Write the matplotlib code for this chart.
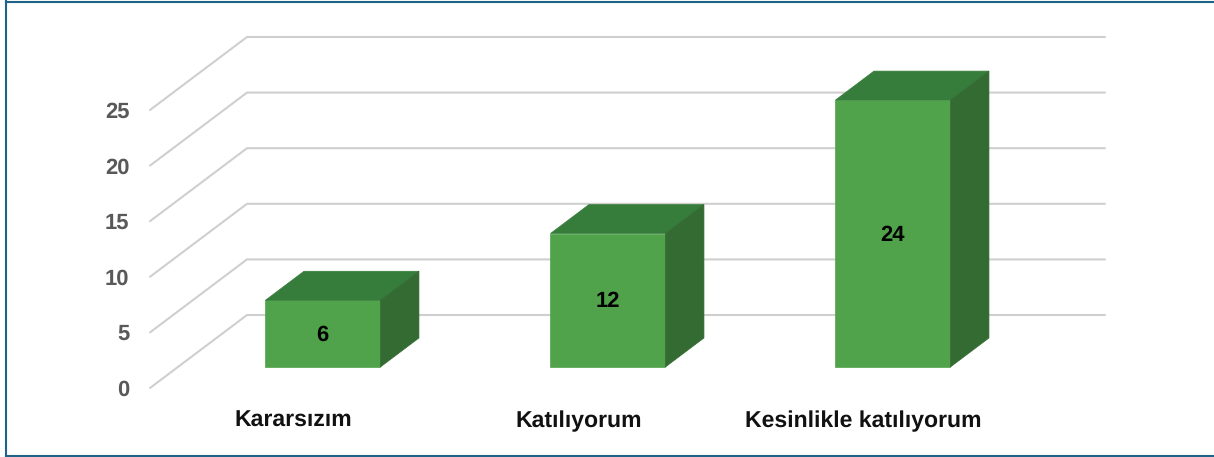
import matplotlib
matplotlib.use("Agg")
from matplotlib import pyplot as plt
from matplotlib.lines import Line2D
import numpy as np

categories = ["Kararsızım", "Katılıyorum", "Kesinlikle katılıyorum"]
values = [6, 12, 24]
y_ticks = [0, 5, 10, 15, 20, 25]

W, H = 1214, 457
PX_PER_UNIT = 11.12
CAT_SPACING = 285.0

# one axes over the whole figure: x in category units, y in chart values
X0_PX = 295.0
Y0_PX = 388.0
WALL_DX = 97.0 / CAT_SPACING
WALL_DY = 73.0 / PX_PER_UNIT
BAR_W = 115.0 / CAT_SPACING
BAR_D0 = 0.288
BAR_D1 = 0.685

plt.rcParams['font.family'] = ['Liberation Sans', 'DejaVu Sans']
plt.rcParams['text.hinting'] = 'none'
plt.rcParams['text.hinting_factor'] = 1

fig = plt.figure(figsize=(W / 100, H / 100), dpi=100)
ax = fig.add_axes([0, 0, 1, 1])
ax.set_xlim(-X0_PX / CAT_SPACING, (W - X0_PX) / CAT_SPACING)
ax.set_ylim(-(H - Y0_PX) / PX_PER_UNIT, Y0_PX / PX_PER_UNIT)
ax.axis("off")

x_front = (150.0 - X0_PX) / CAT_SPACING
x_end = (1105.0 - X0_PX) / CAT_SPACING

def project(x, y, depth):
    return x + WALL_DX * depth, y + WALL_DY * depth

for v in y_ticks:
    xb, yb = project(x_front, v, 1)
    ax.plot([x_front, xb, x_end], [v, yb, yb], color="#cfcfcf", lw=1.5,
            solid_capstyle="round", solid_joinstyle="miter", zorder=1)
    ax.text(x_front - 20.5 / CAT_SPACING, v - 2 / PX_PER_UNIT, str(v), ha="right", va="center",
            fontsize=16, fontweight="bold", color="#595959")

for i, (name, v) in enumerate(zip(categories, values)):
    l = i - BAR_W / 2
    r = i + BAR_W / 2
    fl = project(l, 0, BAR_D0)
    fr = project(r, 0, BAR_D0)
    tl = project(l, v, BAR_D0)
    tr = project(r, v, BAR_D0)
    bl = project(l, v, BAR_D1)
    br = project(r, v, BAR_D1)
    br0 = project(r, 0, BAR_D1)
    ax.fill(*zip(fl, fr, tr, tl), color="#50a34a", lw=0.5, zorder=3)
    ax.fill(*zip(tl, tr, br, bl), color="#367d3b", lw=0.5, zorder=3)
    ax.fill(*zip(fr, br0, br, tr), color="#336b33", lw=0.5, zorder=3)
    ax.text((fl[0] + fr[0]) / 2 - 0.5 / CAT_SPACING, (fl[1] + tl[1]) / 2 - 1.5 / PX_PER_UNIT, str(v),
            ha="center", va="center", fontsize=16, fontweight="bold", color="black", zorder=4)
    ax.text(i - 1.5 / CAT_SPACING, -(427 - Y0_PX) / PX_PER_UNIT, name, ha="center", va="baseline",
            fontsize=16.5, fontweight="bold", color="#111111")

border = "#1f6488"
lw = 1.5
fig.add_artist(Line2D([5.5 / W, 5.5 / W], [0, 1], color=border, lw=lw))
fig.add_artist(Line2D([5.5 / W, 1], [1 - 1.5 / H, 1 - 1.5 / H], color=border, lw=lw))
fig.add_artist(Line2D([5.5 / W, 1], [1 - 455.5 / H, 1 - 455.5 / H], color=border, lw=lw))

fig.savefig("out.png", dpi=100)
